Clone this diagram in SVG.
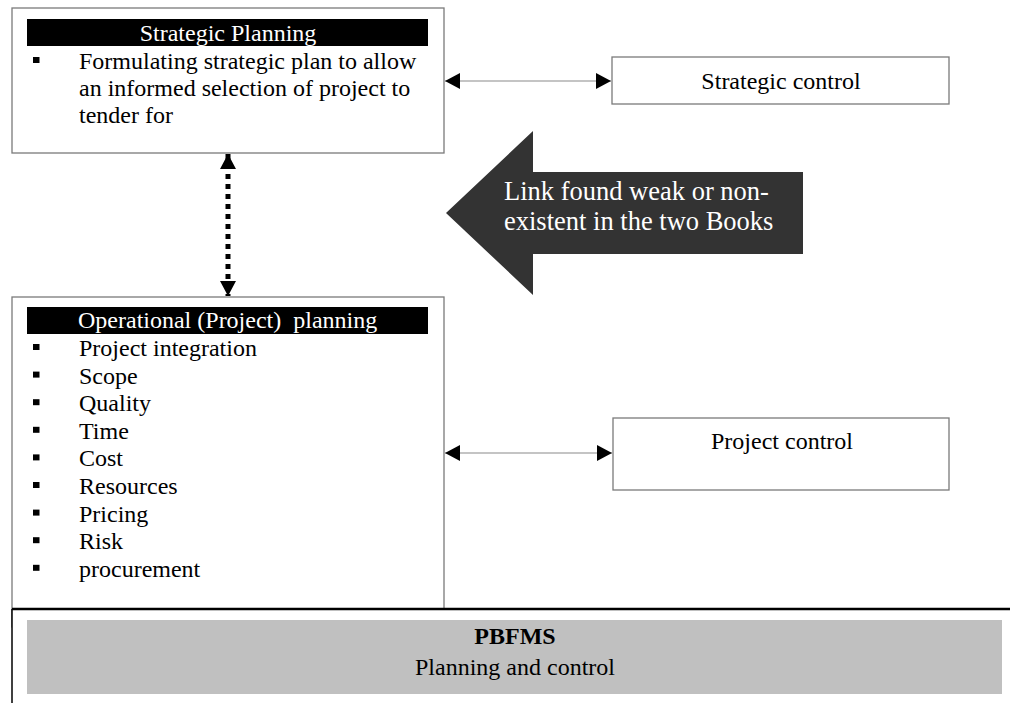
<svg xmlns="http://www.w3.org/2000/svg" width="1010" height="703" viewBox="0 0 1010 703">
<style>
.box{fill:#fff;stroke:#7a7a7a;stroke-width:1.3}
.hdr{fill:#000}
.t{font-family:"Liberation Serif","Times New Roman",serif;font-size:24px;fill:#000}
.ht{font-family:"Liberation Serif","Times New Roman",serif;font-size:24px;fill:#fff}
.at{font-family:"Liberation Serif","Times New Roman",serif;font-size:26.5px;fill:#fff}
.b{font-weight:bold}
.c{text-anchor:middle}
.conn{stroke:#8a8a8a;stroke-width:1.2;fill:none}
.dot{stroke:#000;stroke-width:5;stroke-dasharray:5 5;fill:none}
.bul{fill:#000}
</style>
<defs>
<marker id="ah" markerUnits="userSpaceOnUse" markerWidth="16" markerHeight="16" refX="15" refY="8" orient="auto-start-reverse" viewBox="0 0 16 16">
<path d="M0,0 L15,8 L0,16 z" fill="#000"/>
</marker>
<marker id="ad" markerUnits="userSpaceOnUse" markerWidth="16" markerHeight="17" refX="15" refY="8" orient="auto-start-reverse" viewBox="0 0 16 17">
<path d="M0,0 L15,8 L0,16 z" fill="#000"/>
</marker>
</defs>

<g id="strategic-planning">
<rect class="box" x="12" y="8" width="432" height="145"/>
<rect class="hdr" x="27" y="19" width="401" height="27"/>
<text class="ht c" x="228" y="41">Strategic Planning</text>
<rect class="bul" x="33" y="57" width="6.5" height="6"/>
<text class="t" x="79" y="69">Formulating strategic plan to allow</text>
<text class="t" x="79" y="96">an informed selection of project to</text>
<text class="t" x="79" y="123">tender for</text>
</g>

<g id="strategic-control">
<rect class="box" x="612" y="57" width="337" height="47"/>
<text class="t c" x="781" y="89">Strategic control</text>
</g>

<g id="operational-planning">
<rect class="box" x="12" y="297" width="432" height="330"/>
<rect class="hdr" x="27" y="307" width="401" height="27"/>
<text class="ht" x="78" y="328" xml:space="preserve">Operational (Project)  planning</text>
<rect class="bul" x="33" y="344" width="6.5" height="6"/>
<text class="t" x="79" y="356">Project integration</text>
<rect class="bul" x="33" y="371.6" width="6.5" height="6"/>
<text class="t" x="79" y="383.6">Scope</text>
<rect class="bul" x="33" y="399.2" width="6.5" height="6"/>
<text class="t" x="79" y="411.2">Quality</text>
<rect class="bul" x="33" y="426.8" width="6.5" height="6"/>
<text class="t" x="79" y="438.8">Time</text>
<rect class="bul" x="33" y="454.4" width="6.5" height="6"/>
<text class="t" x="79" y="466.4">Cost</text>
<rect class="bul" x="33" y="482" width="6.5" height="6"/>
<text class="t" x="79" y="494">Resources</text>
<rect class="bul" x="33" y="509.6" width="6.5" height="6"/>
<text class="t" x="79" y="521.6">Pricing</text>
<rect class="bul" x="33" y="537.2" width="6.5" height="6"/>
<text class="t" x="79" y="549.2">Risk</text>
<rect class="bul" x="33" y="564.8" width="6.5" height="6"/>
<text class="t" x="79" y="576.8">procurement</text>
</g>

<g id="project-control">
<rect class="box" x="613" y="418" width="336" height="72"/>
<text class="t c" x="782" y="449">Project control</text>
</g>

<g id="weak-link-arrow">
<polygon points="446,213 533,131 533,172 803,172 803,254 533,254 533,295" fill="#333"/>
<text class="at" x="504" y="200">Link found weak or non-</text>
<text class="at" x="504" y="230">existent in the two Books</text>
</g>

<g id="pbfms">
<rect x="12" y="609" width="998" height="94" fill="#fff"/>
<line x1="12" y1="609" x2="1010" y2="609" stroke="#000" stroke-width="2.5"/>
<line x1="12" y1="609" x2="12" y2="703" stroke="#000" stroke-width="1.5"/>
<rect x="27" y="620" width="975" height="74" fill="#c0c0c0"/>
<text class="t c b" x="515" y="644">PBFMS</text>
<text class="t c" x="515" y="675">Planning and control</text>
</g>

<g id="connectors">
<line class="conn" x1="445" y1="81" x2="611" y2="81" marker-start="url(#ah)" marker-end="url(#ah)"/>
<line class="conn" x1="445" y1="453" x2="612" y2="453" marker-start="url(#ah)" marker-end="url(#ah)"/>
<line class="dot" x1="228" y1="154" x2="228" y2="296" marker-start="url(#ad)" marker-end="url(#ad)"/>
</g>
</svg>
